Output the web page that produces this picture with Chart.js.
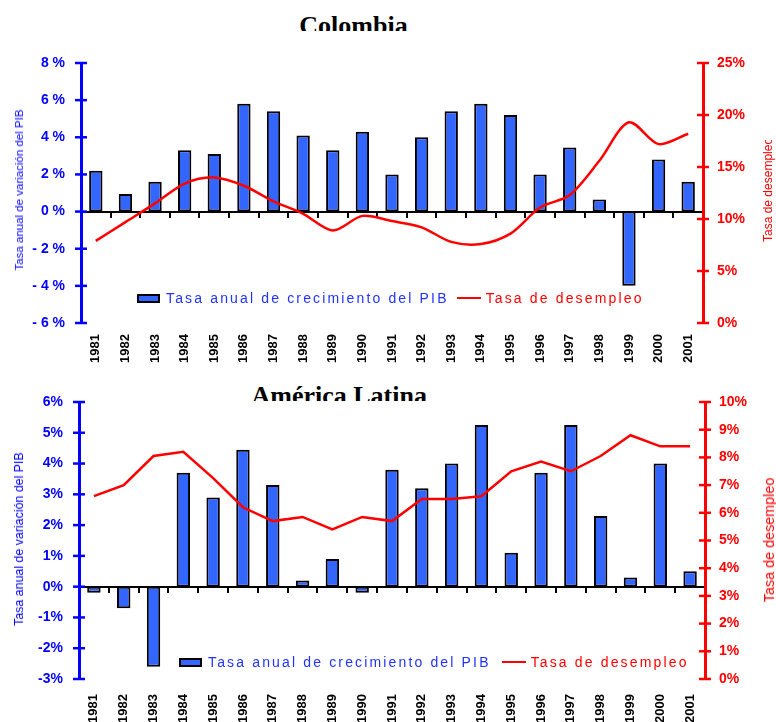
<!DOCTYPE html>
<html>
<head>
<meta charset="utf-8">
<script src="https://cdn.jsdelivr.net/npm/chart.js@4.4.1/dist/chart.umd.min.js"></script>
<style>
  body { margin: 0; background: #fff; }
  #wrap { position: relative; width: 776px; height: 722px; overflow: hidden; background: #fff; }
  canvas { position: absolute; left: 0; }
  .title { position: absolute; overflow: hidden; white-space: nowrap; }
  .title span { position: absolute; font: bold 26px "Liberation Serif", "Times New Roman", serif; line-height: 26px; color: #000; }
  .vt { position: absolute; white-space: nowrap; font-family: "Liberation Sans", Arial, sans-serif;
        transform: translate(-50%, -50%) rotate(-90deg); }
  .clipbox { position: absolute; overflow: hidden; }
  .clipbox span { position: absolute; white-space: nowrap; font-family: "Liberation Sans", Arial, sans-serif;
        transform-origin: 0 0; transform: rotate(-90deg); }
  .legend { position: absolute; display: flex; align-items: center; height: 14px;
        font: 14px "Liberation Sans", Arial, sans-serif; letter-spacing: 2.15px; white-space: nowrap; }
  .legend .box { width: 23px; height: 9px; box-sizing: border-box; border: 2px solid #000; }
  .legend .ln { width: 24px; height: 2.5px; }
</style>
</head>
<body>
<div id="wrap">
  <div class="title" style="left:250px; top:0; width:210px; height:31px;"><span id="t1" style="top:13px;"></span></div>
  <canvas id="c1" width="776" height="370" style="top:0"></canvas>
  <div class="vt" style="left:19px; top:190px; font-size:11.5px; color:#0000ff;">Tasa anual de variación del PIB</div>
  <div class="clipbox" style="left:755px; top:140px; width:21px; height:120px;">
    <span style="left:6px; top:101.7px; font-size:12px; color:#ff0000;">Tasa de desempleo</span>
  </div>
  <div class="legend" id="lg1" style="left:137px; top:291px;"></div>

  <div class="title" style="left:230px; top:370px; width:220px; height:31px;"><span id="t2" style="top:13px;"></span></div>
  <canvas id="c2" width="776" height="352" style="top:370px"></canvas>
  <div class="vt" style="left:19px; top:539px; font-size:12.4px; color:#0000ff;">Tasa anual de variación del PIB</div>
  <div class="vt" style="left:769px; top:540px; font-size:14.4px; color:#ff0000;">Tasa de desempleo</div>
  <div class="legend" id="lg2" style="left:179px; top:655px;"></div>
</div>
<script>
// años (categorías)
const years = ['1981','1982','1983','1984','1985','1986','1987','1988','1989','1990','1991',
               '1992','1993','1994','1995','1996','1997','1998','1999','2000','2001'];

// Colombia
const colPib = [2.2, 0.95, 1.6, 3.3, 3.1, 5.8, 5.4, 4.1, 3.3, 4.3, 2.0,
                4.0, 5.4, 5.8, 5.2, 2.0, 3.45, 0.65, -4.0, 2.8, 1.6];
const colDesempleo = [7.9, 9.7, 11.5, 13.4, 14.0, 13.2, 11.7, 10.5, 8.9, 10.3, 9.8,
                      9.2, 7.8, 7.6, 8.6, 11.1, 12.3, 15.6, 19.3, 17.2, 18.2];
const colLeftTicks = ['- 6 %', '- 4 %', '- 2 %', '0 %', '2 %', '4 %', '6 %', '8 %'];
const colRightTicks = ['0%', '5%', '10%', '15%', '20%', '25%'];

// América Latina
const alPib = [-0.2, -0.7, -2.6, 3.7, 2.9, 4.45, 3.3, 0.2, 0.9, -0.2, 3.8,
               3.2, 4.0, 5.25, 1.1, 3.7, 5.25, 2.3, 0.3, 4.0, 0.5];
const alDesempleo = [6.6, 7.0, 8.05, 8.2, 7.25, 6.2, 5.7, 5.85, 5.4, 5.85, 5.7,
                     6.5, 6.5, 6.6, 7.5, 7.85, 7.5, 8.05, 8.8, 8.4, 8.4];
const alLeftTicks = ['-3%', '-2%', '-1%', '0%', '1%', '2%', '3%', '4%', '5%', '6%'];
const alRightTicks = ['0%', '1%', '2%', '3%', '4%', '5%', '6%', '7%', '8%', '9%', '10%'];

const pibLabel = 'Tasa anual de crecimiento del PIB';
const desLabel = 'Tasa de desempleo';
const barColor = '#3366ff';
const blue = '#0000ff';
const red = '#ff0000';

Chart.defaults.font.family = '"Liberation Sans", Arial, sans-serif';

// marcas de los ejes Y que cruzan la línea del eje
const crossTicks = {
  id: 'crossTicks',
  afterDraw(chart) {
    const ctx = chart.ctx;
    ['y', 'y1'].forEach(id => {
      const s = chart.scales[id];
      const x = id === 'y' ? s.right : s.left;
      ctx.save();
      ctx.strokeStyle = s.options.border.color;
      ctx.lineWidth = 2.5;
      s.ticks.forEach((t, i) => {
        const py = s.getPixelForTick(i);
        ctx.beginPath();
        ctx.moveTo(x - 6, py);
        ctx.lineTo(x + 6, py);
        ctx.stroke();
      });
      ctx.restore();
    });
  }
};

function makeChart(id, o) {
  return new Chart(document.getElementById(id), {
    type: 'bar',
    data: {
      labels: years,
      datasets: [{
        type: 'line',
        label: desLabel,
        data: o.des,
        yAxisID: 'y1',
        borderColor: red,
        borderWidth: 2.5,
        pointRadius: 0,
        tension: o.tension,
        order: 1
      }, {
        type: 'bar',
        label: pibLabel,
        data: o.pib,
        yAxisID: 'y',
        backgroundColor: barColor,
        borderColor: '#000',
        borderWidth: 2,
        borderSkipped: false,
        barPercentage: 0.45,
        categoryPercentage: 1,
        order: 2
      }]
    },
    options: {
      responsive: false,
      animation: false,
      layout: { padding: { top: o.top, left: 0, right: 0, bottom: 0 } },
      plugins: { legend: { display: false }, tooltip: { enabled: false } },
      scales: {
        x: {
          offset: true,
          grid: { display: false, drawTicks: false },
          border: { display: false },
          ticks: {
            color: '#000', font: { size: 13, weight: 'bold' },
            minRotation: 90, maxRotation: 90, autoSkip: false, padding: o.xPad
          },
          afterFit: s => { s.height = o.xHeight; }
        },
        xz: {
          type: 'category',
          position: { y: 0 },
          offset: true,
          grid: { display: true, offset: true, drawOnChartArea: false, drawTicks: true,
                  tickLength: 5, color: '#000', lineWidth: 2 },
          border: { display: true, color: '#000', width: 2 },
          ticks: { display: false }
        },
        y: {
          position: 'left',
          min: o.leftMin, max: o.leftMax,
          ticks: { stepSize: o.leftStep, color: blue, font: { size: 14, weight: 'bold' }, padding: 16,
                   callback: (v, i) => o.leftTicks[i] },
          grid: { display: false, drawTicks: false },
          border: { display: true, color: blue, width: 3 },
          afterFit: s => { s.width = o.leftW; }
        },
        y1: {
          position: 'right',
          min: 0, max: o.rightMax,
          ticks: { stepSize: o.rightStep, color: red, font: { size: 14, weight: 'bold' }, padding: 14,
                   callback: (v, i) => o.rightTicks[i] },
          grid: { display: false, drawTicks: false },
          border: { display: true, color: red, width: 3 },
          afterFit: s => { s.width = o.rightW; }
        }
      }
    },
    plugins: [crossTicks]
  });
}

function buildLegend(el, chart, gap) {
  const bar = chart.data.datasets[1];
  const line = chart.data.datasets[0];
  el.innerHTML =
    '<span class="box" style="background:' + bar.backgroundColor + '"></span>' +
    '<span style="margin-left:6px;color:#2233ff">' + bar.label + '</span>' +
    '<span class="ln" style="margin-left:' + gap + 'px;background:' + line.borderColor + '"></span>' +
    '<span style="margin-left:5px;color:' + line.borderColor + '">' + line.label + '</span>';
}

document.getElementById('t1').textContent = 'Colombia';
document.getElementById('t2').textContent = 'América Latina';
// centrar títulos
[['t1', 353.3 - 250], ['t2', 339 - 230]].forEach(([id, cx]) => {
  const e = document.getElementById(id);
  e.style.left = (cx - e.offsetWidth / 2) + 'px';
});

const ch1 = makeChart('c1', {
  pib: colPib, des: colDesempleo, tension: 0.3,
  top: 63, xHeight: 47, xPad: 11, leftW: 81, rightW: 73,
  leftMin: -6, leftMax: 8, leftStep: 2, leftTicks: colLeftTicks,
  rightMax: 25, rightStep: 5, rightTicks: colRightTicks
});
const ch2 = makeChart('c2', {
  pib: alPib, des: alDesempleo, tension: 0,
  top: 32, xHeight: 43, xPad: 15, leftW: 79, rightW: 71,
  leftMin: -3, leftMax: 6, leftStep: 1, leftTicks: alLeftTicks,
  rightMax: 10, rightStep: 1, rightTicks: alRightTicks
});
buildLegend(document.getElementById('lg1'), ch1, 8);
buildLegend(document.getElementById('lg2'), ch2, 11);
</script>
</body>
</html>
